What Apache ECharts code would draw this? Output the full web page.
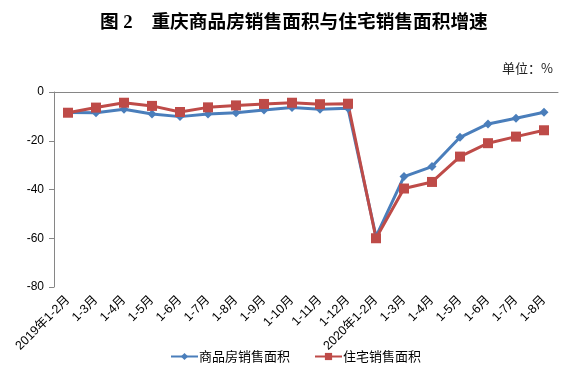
<!DOCTYPE html>
<html><head><meta charset="utf-8">
<script src="https://cdn.jsdelivr.net/npm/echarts@6/dist/echarts.min.js"></script>
<style>html,body{margin:0;padding:0;background:#fff}#c{width:574px;height:378px}</style>
</head><body><div id="c"></div>
<script>
var categories = ["2019年1-2月","1-3月","1-4月","1-5月","1-6月","1-7月","1-8月","1-9月","1-10月","1-11月","1-12月","2020年1-2月","1-3月","1-4月","1-5月","1-6月","1-7月","1-8月"];
var commercial = [-8.4,-8.5,-7.1,-9.0,-10.1,-9.0,-8.5,-7.4,-6.4,-7.1,-6.7,-59.3,-34.7,-30.6,-18.6,-13.1,-10.8,-8.3];
var residential = [-8.5,-6.4,-4.4,-5.7,-8.2,-6.3,-5.5,-4.9,-4.4,-5.0,-4.8,-60.0,-39.6,-36.9,-26.5,-21.0,-18.3,-15.7];
var yTicks = {min:-80, max:0, interval:20};

var chart = echarts.init(document.getElementById('c'));
chart.setOption({
  animation:false,
  backgroundColor:'#fff',
  title:[{
    text:'图 2　重庆商品房销售面积与住宅销售面积增速',
    left:95, top:9,
    textStyle:{fontFamily:'Liberation Serif, Noto Sans CJK SC', fontWeight:'bold', fontSize:18.7, color:'#000'}
  },{
    text:'单位：%', right:16, top:57,
    textStyle:{fontFamily:'Noto Sans CJK SC', fontWeight:'normal', fontSize:13, color:'#222'}
  }],
  grid:{left:54, right:16, top:92, bottom:91},
  legend:{
    bottom:10, left:165,
    itemWidth:27, itemHeight:9, itemGap:24,
    textStyle:{fontFamily:'Noto Sans CJK SC', fontSize:13, color:'#000', padding:[0,0,0,-4]},
    data:['商品房销售面积','住宅销售面积']
  },
  xAxis:{
    type:'category', data:categories, boundaryGap:true,
    axisLine:{lineStyle:{color:'#868686'}},
    axisTick:{length:5, lineStyle:{color:'#868686'}},
    axisLabel:{rotate:45, interval:0, fontFamily:'Liberation Sans, Noto Sans CJK SC', fontSize:12.5, color:'#000', margin:11}
  },
  yAxis:{
    type:'value', min:yTicks.min, max:yTicks.max, interval:yTicks.interval,
    splitLine:{show:false},
    axisLine:{show:true, lineStyle:{color:'#868686'}},
    axisTick:{show:true, length:5, lineStyle:{color:'#868686'}},
    axisLabel:{fontFamily:'Liberation Sans', fontSize:12, color:'#000', margin:10}
  },
  series:[{
    name:'商品房销售面积', type:'line', data:commercial,
    symbol:'diamond', symbolSize:9,
    lineStyle:{width:3, color:'#4a7ebb'}, itemStyle:{color:'#4a7ebb'}
  },{
    name:'住宅销售面积', type:'line', data:residential,
    symbol:'rect', symbolSize:10,
    lineStyle:{width:3, color:'#be4b48'}, itemStyle:{color:'#be4b48'}
  }]
});
</script></body></html>
